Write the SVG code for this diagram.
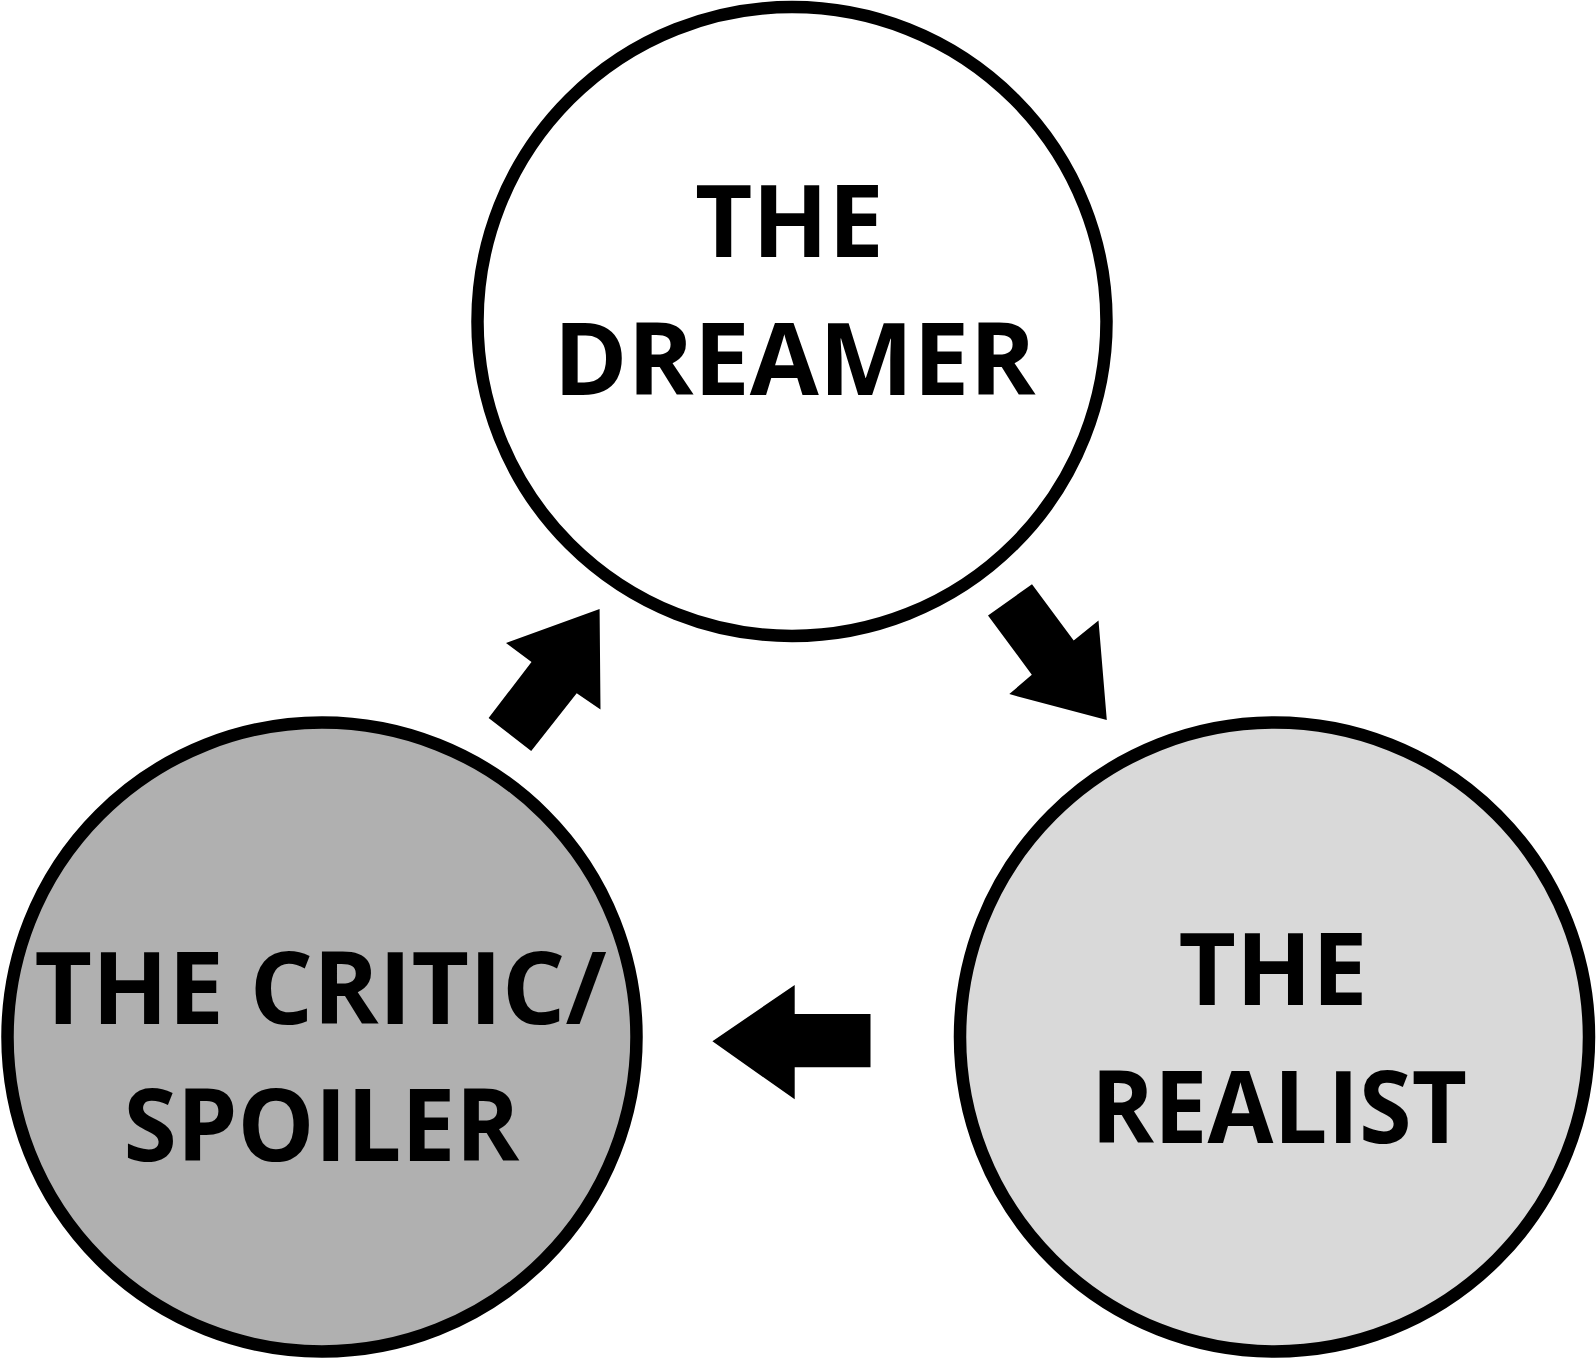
<svg xmlns="http://www.w3.org/2000/svg" width="1596" height="1360" viewBox="0 0 1596 1360">
  <style>
    .node { stroke: #000000; stroke-width: 12.5; }
    .label { font-family: "Open Sans", "Liberation Sans", sans-serif; font-weight: 700; font-size: 101px; fill: #000000; text-anchor: middle; }
    .arrow { fill: #000000; stroke: none; }
  </style>
  <rect x="0" y="0" width="1596" height="1360" fill="#ffffff"/>
  <g id="connectors">
    <polygon class="arrow" points="599.6,609 506,643 531.5,662 488.6,718 531.2,751 576.7,693.3 600.5,709.4"/>
    <polygon class="arrow" points="1032,584.2 988,615.4 1031.8,674.8 1009.3,694.1 1106.8,720 1098.5,620.5 1073.7,640.5"/>
    <polygon class="arrow" points="712.4,1041.3 794.7,985 794.7,1013.9 870.5,1013.9 870.5,1067.3 794.7,1067.3 794.7,1099.3"/>
  </g>
  <g id="node-dreamer">
    <circle class="node" cx="792" cy="321.5" r="314.5" fill="#ffffff"/>
    <text class="label" x="789.4" y="256.5" textLength="189" lengthAdjust="spacingAndGlyphs">THE</text>
    <text class="label" x="794.5" y="395" textLength="482" lengthAdjust="spacingAndGlyphs">DREAMER</text>
  </g>
  <g id="node-realist">
    <circle class="node" cx="1274.5" cy="1037" r="314.5" fill="#d9d9d9"/>
    <text class="label" x="1273" y="1005" textLength="189" lengthAdjust="spacingAndGlyphs">THE</text>
    <text class="label" x="1279" y="1143" textLength="376" lengthAdjust="spacingAndGlyphs">REALIST</text>
  </g>
  <g id="node-critic">
    <circle class="node" cx="322" cy="1037" r="314.5" fill="#b0b0b0"/>
    <text class="label" x="320.5" y="1024" textLength="572" lengthAdjust="spacingAndGlyphs">THE CRITIC/</text>
    <text class="label" x="321.5" y="1161" textLength="396" lengthAdjust="spacingAndGlyphs">SPOILER</text>
  </g>
</svg>
